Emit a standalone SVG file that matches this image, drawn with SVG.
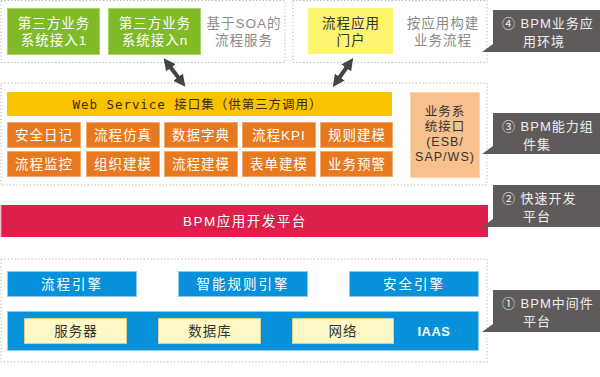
<svg xmlns="http://www.w3.org/2000/svg" width="600" height="377" viewBox="0 0 600 377">
<defs>
<style>
text{font-family:"Liberation Sans","Noto Sans CJK SC",sans-serif;text-anchor:middle;dominant-baseline:central}
.dot{fill:none;stroke:#b0b0b0;stroke-width:1;stroke-dasharray:1.2 2.2}
.green{fill:#80bb27;stroke:#a6d36a;stroke-width:1}
.wt{fill:#ffffff;font-size:13.5px;letter-spacing:1px}
.gray{fill:#8a8a8a;font-size:13.5px;letter-spacing:1px}
.dark{fill:#333333;font-size:13.5px;letter-spacing:1px}
.sm{fill:#333333;font-size:12.5px;letter-spacing:1px}
.org{fill:#e8791f;stroke:#f3a868;stroke-width:1}
.blue{fill:#0691da;stroke:#8fcdf0;stroke-width:1}
.cream{fill:#fdf8c6;stroke:#d9d08e;stroke-width:1}
.call{fill:#5f5b5a}
.ct{fill:#eeeeee;font-size:13px;letter-spacing:1px;text-anchor:start}
.arr{stroke:#444444;stroke-width:4;marker-start:url(#ah);marker-end:url(#ah)}
</style>
<marker id="ah" viewBox="0 0 10 10" refX="4" refY="5" markerWidth="3" markerHeight="3" orient="auto-start-reverse">
<path d="M0,0 L10,5 L0,10 Z" fill="#444444"/>
</marker>
</defs>
<rect width="600" height="377" fill="#ffffff"/>

<g id="frames">
<rect class="dot" x="1" y="0.5" width="284" height="62"/>
<rect class="dot" x="293" y="0.5" width="194" height="62"/>
<rect class="dot" x="1" y="83" width="486" height="102"/>
<rect class="dot" x="1" y="259" width="486" height="103"/>
</g>

<g id="n-third1">
<rect class="green" x="7.5" y="8.5" width="92" height="46"/>
<text class="wt"><tspan x="54" y="23">第三方业务</tspan><tspan x="54" y="40">系统接入1</tspan></text>
</g>
<g id="n-thirdn">
<rect class="green" x="108.5" y="8.5" width="92" height="46"/>
<text class="wt"><tspan x="155" y="23">第三方业务</tspan><tspan x="155" y="40">系统接入n</tspan></text>
</g>
<g id="n-soa">
<text class="gray"><tspan x="244" y="23">基于SOA的</tspan><tspan x="244" y="40">流程服务</tspan></text>
</g>
<g id="n-portal">
<rect x="308" y="8" width="85" height="46" fill="#fdf46f"/>
<text class="dark"><tspan x="351" y="23">流程应用</tspan><tspan x="351" y="40">门户</tspan></text>
</g>
<g id="n-build">
<text class="gray"><tspan x="443" y="23">按应用构建</tspan><tspan x="443" y="40">业务流程</tspan></text>
</g>

<g id="connectors">
<line class="arr" x1="168" y1="64" x2="181" y2="81"/>
<line class="arr" x1="349" y1="64" x2="337" y2="81"/>
</g>

<g id="n-ws">
<rect x="7" y="92" width="385" height="24" fill="#f9c300"/>
<text x="197" y="104" font-size="12.5" fill="#3a2c00" textLength="249" lengthAdjust="spacing" style="font-family:'DejaVu Sans Mono','Noto Sans CJK SC',monospace">Web Service 接口集（供第三方调用）</text>
</g>

<g id="n-r1c1"><rect class="org" x="7.5" y="122.5" width="73" height="25"/><text class="wt" x="44" y="135">安全日记</text></g>
<g id="n-r1c2"><rect class="org" x="86.5" y="122.5" width="73" height="25"/><text class="wt" x="123" y="135">流程仿真</text></g>
<g id="n-r1c3"><rect class="org" x="164.5" y="122.5" width="73" height="25"/><text class="wt" x="201" y="135">数据字典</text></g>
<g id="n-r1c4"><rect class="org" x="242.5" y="122.5" width="73" height="25"/><text class="wt" x="279" y="135">流程KPI</text></g>
<g id="n-r1c5"><rect class="org" x="320.5" y="122.5" width="72" height="25"/><text class="wt" x="357" y="135">规则建模</text></g>
<g id="n-r2c1"><rect class="org" x="7.5" y="151.5" width="73" height="25"/><text class="wt" x="44" y="164">流程监控</text></g>
<g id="n-r2c2"><rect class="org" x="86.5" y="151.5" width="73" height="25"/><text class="wt" x="123" y="164">组织建模</text></g>
<g id="n-r2c3"><rect class="org" x="164.5" y="151.5" width="73" height="25"/><text class="wt" x="201" y="164">流程建模</text></g>
<g id="n-r2c4"><rect class="org" x="242.5" y="151.5" width="73" height="25"/><text class="wt" x="279" y="164">表单建模</text></g>
<g id="n-r2c5"><rect class="org" x="320.5" y="151.5" width="72" height="25"/><text class="wt" x="357" y="164">业务预警</text></g>

<g id="n-bizif">
<rect x="410.5" y="92.5" width="69" height="85" fill="#f7c08c" stroke="#f9d8b4" stroke-width="1"/>
<text class="sm"><tspan x="445" y="112">业务系</tspan><tspan x="445" y="127">统接口</tspan><tspan x="445" y="142">(ESB/</tspan><tspan x="445" y="157">SAP/WS)</tspan></text>
</g>

<g id="n-devplat">
<rect x="1" y="205" width="487" height="32" fill="#dc1f4b"/>
<rect x="0.5" y="205" width="1" height="32" fill="#f08aa3"/>
<text class="wt" x="245" y="221" style="letter-spacing:1.5px">BPM应用开发平台</text>
</g>

<g id="n-flow"><rect class="blue" x="7.5" y="271.5" width="129" height="25"/><text class="wt" x="72" y="284" style="letter-spacing:2px">流程引擎</text></g>
<g id="n-rule"><rect class="blue" x="178.5" y="271.5" width="129" height="25"/><text class="wt" x="243" y="284" style="letter-spacing:2px">智能规则引擎</text></g>
<g id="n-sec"><rect class="blue" x="349.5" y="271.5" width="129" height="25"/><text class="wt" x="414" y="284" style="letter-spacing:2px">安全引擎</text></g>

<g id="n-iaas">
<rect class="blue" x="7.5" y="311.5" width="471" height="39"/>
<text x="434" y="331" fill="#ffffff" font-size="13" font-weight="bold" style="letter-spacing:0.5px">IAAS</text>
</g>
<g id="n-server"><rect class="cream" x="24.5" y="318.5" width="102" height="25"/><text class="dark" x="76" y="331">服务器</text></g>
<g id="n-db"><rect class="cream" x="158.5" y="318.5" width="102" height="25"/><text class="dark" x="210" y="331">数据库</text></g>
<g id="n-net"><rect class="cream" x="292.5" y="318.5" width="101" height="25"/><text class="dark" x="343" y="331">网络</text></g>

<g id="c4">
<path class="call" d="M493,10 H600 V52 H482 L493,44 Z"/>
<text class="ct"><tspan x="502" y="23">④ BPM业务应</tspan><tspan x="523" y="41">用环境</tspan></text>
</g>
<g id="c3">
<path class="call" d="M493,113 H600 V154 H482 L493,146 Z"/>
<text class="ct"><tspan x="502" y="126">③ BPM能力组</tspan><tspan x="523" y="144">件集</tspan></text>
</g>
<g id="c2">
<path class="call" d="M493,185 H600 V227 H482 L493,219 Z"/>
<text class="ct"><tspan x="502" y="198">② 快速开发</tspan><tspan x="523" y="216">平台</tspan></text>
</g>
<g id="c1">
<path class="call" d="M493,290 H600 V332 H482 L493,324 Z"/>
<text class="ct"><tspan x="502" y="303">① BPM中间件</tspan><tspan x="523" y="321">平台</tspan></text>
</g>
</svg>
